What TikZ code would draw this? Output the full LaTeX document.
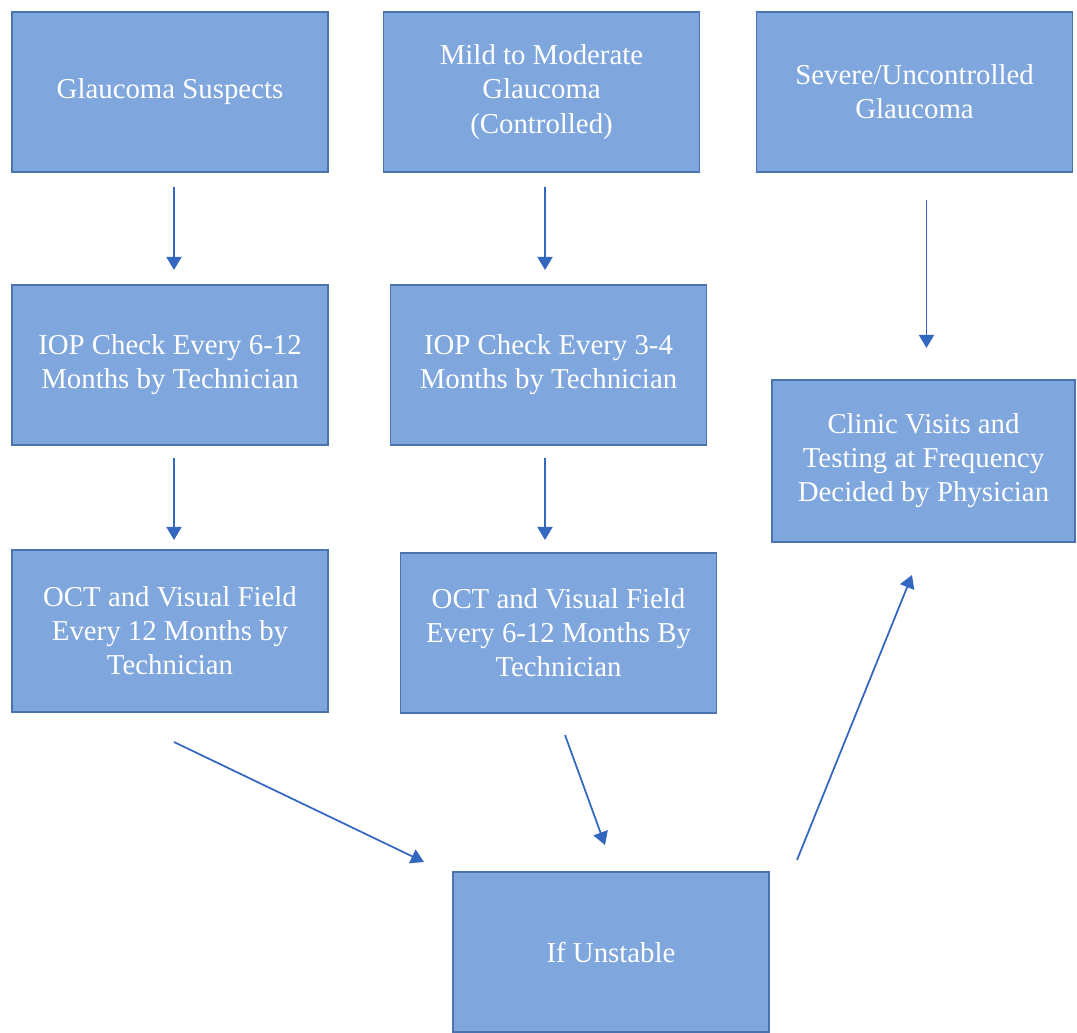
\documentclass[tikz,border=0pt]{standalone}
\usepackage{fontspec}
\setmainfont{Liberation Serif}
\usetikzlibrary{arrows.meta}
\definecolor{boxblue}{HTML}{7FA7DD}
\definecolor{boxedge}{HTML}{4A73B0}
\definecolor{arrblue}{HTML}{3468C0}
\begin{document}
\begin{tikzpicture}[
    stage/.style={draw=boxedge, fill=boxblue, line width=1.1pt, text=white, align=center,
      minimum width=6.32cm, minimum height=3.2cm, inner sep=0pt, outer sep=0pt,
      font=\fontsize{16.4}{19.4}\selectfont},
    arr/.style={draw=arrblue, line width=1pt, -{Triangle[length=0.26cm,width=0.3cm]}}
  ]
      \useasboundingbox (0,0) rectangle (21.54,20.64);

      \node[stage] (suspect) at (3.40,18.80) {Glaucoma Suspects};
      \node[stage] (mild) at (10.83,18.80) {Mild to Moderate\\Glaucoma\\(Controlled)};
      \node[stage] (severe) at (18.29,18.80) {Severe/Uncontrolled\\Glaucoma};

      \node[stage] (iopa) at (3.40,13.34) {IOP Check Every 6-12\\Months by Technician};
      \node[stage] (iopb) at (10.97,13.34) {IOP Check Every 3-4\\Months by Technician};
      \node[stage, minimum width=6.06cm, minimum height=3.24cm] (clinic) at (18.47,11.42) {Clinic Visits and\\Testing at Frequency\\Decided by Physician};

      \node[stage, minimum height=3.24cm] (octa) at (3.40,8.02) {OCT and Visual Field\\Every 12 Months by\\Technician};
      \node[stage] (octb) at (11.17,7.98) {OCT and Visual Field\\Every 6-12 Months By\\Technician};

      \node[stage] (unstable) at (12.22,1.60) {If Unstable};

      \draw[arr] ([shift={(0.08,-0.3)}]suspect.south) -- ([shift={(0.08,0.3)}]iopa.north);
      \draw[arr] ([shift={(0.07,-0.3)}]mild.south) -- ([shift={(-0.07,0.3)}]iopb.north);
      \draw[arr] ([shift={(0.24,-0.56)}]severe.south) -- ([shift={(0.06,0.64)}]clinic.north);

      \draw[arr] ([shift={(0.08,-0.26)}]iopa.south) -- ([shift={(0.08,0.2)}]octa.north);
      \draw[arr] ([shift={(-0.07,-0.26)}]iopb.south) -- ([shift={(-0.27,0.26)}]octb.north);

      \draw[arr] ([shift={(0.08,-0.6)}]octa.south) -- ([shift={(-0.58,0.2)}]unstable.north west);
      \draw[arr] ([shift={(0.13,-0.44)}]octb.south) -- ([shift={(-0.12,0.54)}]unstable.north);
      \draw[arr] ([shift={(0.56,0.24)}]unstable.north east) -- ([shift={(-0.23,-0.66)}]clinic.south);
\end{tikzpicture}
\end{document}
